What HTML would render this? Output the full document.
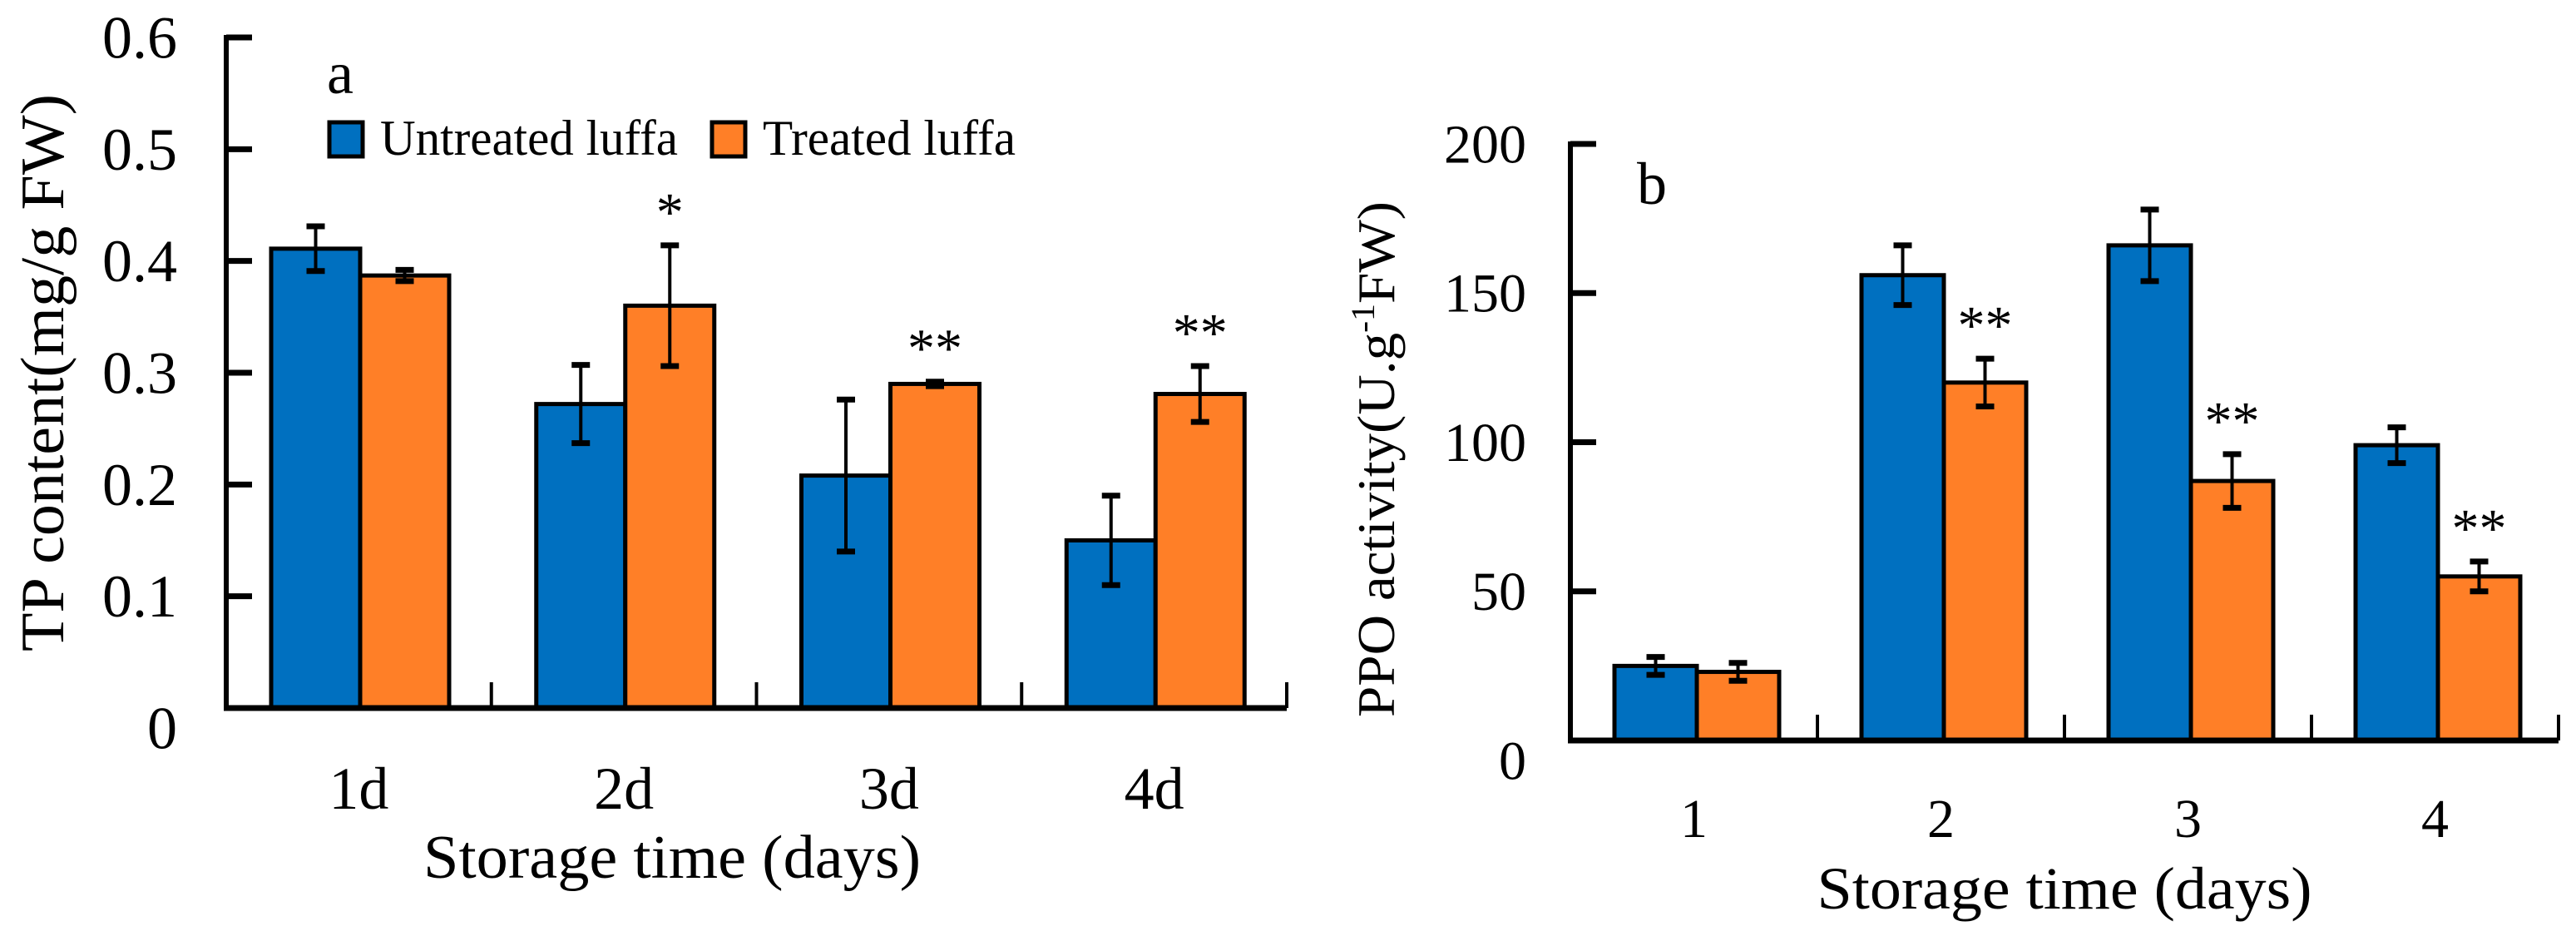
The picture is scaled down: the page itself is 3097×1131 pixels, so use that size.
<!DOCTYPE html>
<html><head><meta charset="utf-8"><style>
html,body{margin:0;padding:0;background:#fff;}
svg{display:block;font-family:"Liberation Serif",serif;}
</style></head><body>
<svg id="chart" width="3097" height="1131" viewBox="0 0 3097 1131" xmlns="http://www.w3.org/2000/svg">
<g id="pa"></g>
<g id="pb"></g>
<text x="393" y="112" font-size="72">a</text>
<text x="1968" y="245" font-size="72">b</text>
<g>
<rect x="396" y="147" width="40" height="41" fill="#0070C0" stroke="#000" stroke-width="5"/>
<text x="457" y="186" font-size="60" textLength="358" lengthAdjust="spacingAndGlyphs">Untreated luffa</text>
<rect x="856" y="147" width="40" height="41" fill="#FF7F27" stroke="#000" stroke-width="5"/>
<text x="917" y="186" font-size="60" textLength="304" lengthAdjust="spacingAndGlyphs">Treated luffa</text>
</g>
<text transform="translate(76,448) rotate(-90)" text-anchor="middle" font-size="74" textLength="670" lengthAdjust="spacingAndGlyphs">TP content(mg/g FW)</text>
<text transform="translate(1676,552) rotate(-90)" text-anchor="middle" font-size="64" textLength="620" lengthAdjust="spacingAndGlyphs">PPO activity(U.g<tspan font-size="40" dy="-24">-1</tspan><tspan dy="24">FW)</tspan></text>
<text x="808" y="1055" text-anchor="middle" font-size="74" textLength="598" lengthAdjust="spacingAndGlyphs">Storage time (days)</text>
<text x="2482" y="1092" text-anchor="middle" font-size="72" textLength="595" lengthAdjust="spacingAndGlyphs">Storage time (days)</text>
</svg>
<script>
const catsA = ["1d","2d","3d","4d"];
const untreatedA = [0.411,0.272,0.208,0.150];
const untreatedErrA = [0.020,0.035,0.068,0.040];
const treatedA = [0.387,0.360,0.290,0.281];
const treatedErrA = [0.005,0.054,0.002,0.025];
const sigA = ["","*","**","**"];
const ticksA = [0,0.1,0.2,0.3,0.4,0.5,0.6];
const tickLabelsA = ["0","0.1","0.2","0.3","0.4","0.5","0.6"];

const catsB = ["1","2","3","4"];
const untreatedB = [25,156,166,99];
const untreatedErrB = [3,10,12,6];
const treatedB = [23,120,87,55];
const treatedErrB = [3,8,9,5];
const sigB = ["","**","**","**"];
const ticksB = [0,50,100,150,200];
const tickLabelsB = ["0","50","100","150","200"];

const NS="http://www.w3.org/2000/svg";
function mk(parent,tag,attrs,txt){const e=document.createElementNS(NS,tag);for(const k in attrs)e.setAttribute(k,attrs[k]);if(txt!==undefined)e.textContent=txt;parent.appendChild(e);return e;}

function panel(g,cfg){
  const {x0,x1,y0,yTop,vmax,cats,u,ue,t,te,sig,ticks,labels,off,bw,fs,lblY}=cfg;
  const yS=v=>y0-(v/vmax)*(y0-yTop);
  const cw=(x1-x0)/cats.length;
  const xC=i=>x0+i*cw;
  for(let i=0;i<cats.length;i++){
    const bx=xC(i)+off;
    [[u,ue,"#0070C0","untreated"],[t,te,"#FF7F27","treated"]].forEach((s,j)=>{
      const v=s[0][i],e=s[1][i],x=bx+j*bw,y=yS(v);
      const r=mk(g,"rect",{x:x,y:y,width:bw,height:y0-y,fill:s[2],stroke:"#000","stroke-width":5});
      
      
      const cx=x+bw/2,yt=yS(v+e),yb=yS(v-e);
      const eg=mk(g,"g",{});
      
      
      mk(eg,"line",{x1:cx,x2:cx,y1:yt,y2:yb,stroke:"#000","stroke-width":4});
      mk(eg,"line",{x1:cx-11,x2:cx+11,y1:yt,y2:yt,stroke:"#000","stroke-width":7});
      mk(eg,"line",{x1:cx-11,x2:cx+11,y1:yb,y2:yb,stroke:"#000","stroke-width":7});
      if(j===1&&sig[i]){
        const st=mk(g,"text",{x:cx,y:Math.min(yt,y)-18,"text-anchor":"middle","font-size":66},sig[i]);
        
        
      }
    });
    const lb=mk(g,"text",{x:xC(i)+cw/2,y:lblY,"text-anchor":"middle","font-size":fs},cats[i]);
    
    
    const tk=mk(g,"line",{x1:xC(i+1),x2:xC(i+1),y1:y0,y2:y0-31,stroke:"#000","stroke-width":4});
    
    
  }
  const ya=mk(g,"line",{x1:x0,x2:x0,y1:yTop-3,y2:y0+3,stroke:"#000","stroke-width":6});
  
  
  const xa=mk(g,"line",{x1:x0-3,x2:x1,y1:y0,y2:y0,stroke:"#000","stroke-width":7});
  
  
  ticks.forEach((v,k)=>{
    const y=yS(v);
    const tl=mk(g,"line",{x1:x0,x2:x0+31,y1:y,y2:y,stroke:"#000","stroke-width":7});
    
    
    const tx=mk(g,"text",{x:cfg.labX,y:y+(k===0?24:0)+cfg.fs*0.34,"text-anchor":"end","font-size":fs},labels[k]);
    
    
  });
}
panel(document.getElementById("pa"),{x0:272,x1:1547,y0:851,yTop:45,vmax:0.6,cats:catsA,u:untreatedA,ue:untreatedErrA,t:treatedA,te:treatedErrA,sig:sigA,ticks:ticksA,labels:tickLabelsA,off:54,bw:107,fs:72,lblY:972,labX:213});
panel(document.getElementById("pb"),{x0:1888,x1:3076,y0:890,yTop:173,vmax:200,cats:catsB,u:untreatedB,ue:untreatedErrB,t:treatedB,te:treatedErrB,sig:sigB,ticks:ticksB,labels:tickLabelsB,off:53,bw:99,fs:66,lblY:1006,labX:1835});
</script>
</body></html>
